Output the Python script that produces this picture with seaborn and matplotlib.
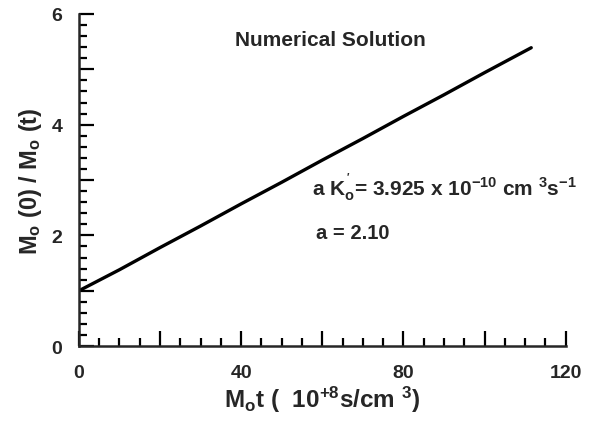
import numpy as np
import pandas as pd
import seaborn as sns
import matplotlib
matplotlib.use('Agg')
import matplotlib.pyplot as plt
from matplotlib.ticker import MultipleLocator, FixedFormatter, FixedLocator

# values
mot = [0, 10, 20, 30, 40, 50, 60, 70, 80, 90, 100, 111.5]
ratio = [1.00, 1.38, 1.78, 2.17, 2.57, 2.96, 3.36, 3.75, 4.15, 4.54, 4.94, 5.39]
x_ticklabels = ['0', '', '40', '', '80', '', '120']
y_ticklabels = ['0', '', '2', '', '4', '', '6']

df = pd.DataFrame({'mot': mot, 'ratio': ratio})

sns.set_style('ticks')
plt.rcParams['font.family'] = ['Liberation Sans', 'DejaVu Sans']
plt.rcParams['font.weight'] = 'bold'
plt.rcParams['mathtext.fontset'] = 'custom'
plt.rcParams['mathtext.rm'] = 'Liberation Sans:bold'
plt.rcParams['mathtext.it'] = 'Liberation Sans:bold'
plt.rcParams['mathtext.bf'] = 'Liberation Sans:bold'

fig = plt.figure(figsize=(5.93, 4.27), dpi=100)
ax = fig.add_axes([0.133, 0.187, 0.821, 0.778])

sns.lineplot(data=df, x='mot', y='ratio', ax=ax, color='black', linewidth=2.4)

ax.set_xlim(0, 120)
ax.set_ylim(0, 6)
sns.despine(ax=ax)
for s in ['left', 'bottom']:
    ax.spines[s].set_linewidth(1.8)

ax.xaxis.set_major_locator(FixedLocator(list(range(0, 121, 20))))
ax.xaxis.set_major_formatter(FixedFormatter(x_ticklabels))
ax.xaxis.set_minor_locator(MultipleLocator(5))
ax.yaxis.set_major_locator(FixedLocator(list(range(0, 7))))
ax.yaxis.set_major_formatter(FixedFormatter(y_ticklabels))
ax.yaxis.set_minor_locator(MultipleLocator(0.2))

ax.tick_params(which='major', direction='in', length=11, width=1.6,
               labelsize=14, color='black')
ax.tick_params(which='minor', direction='in', length=6, width=1.6, color='black')
ax.tick_params(axis='x', which='major', pad=13)
ax.tick_params(axis='y', which='major', pad=12)

ax.set_xlabel(r'M$_{\rm o}$t (  10$^{+8}$s/cm $^{3}$)', fontsize=17.5,
              fontweight='bold', labelpad=2)
ax.set_ylabel(r'M$_{\rm o}$ (0) / M$_{\rm o}$ (t)', fontsize=17,
              fontweight='bold', labelpad=5)

ax.text(61.9, 5.53, 'Numerical Solution', fontsize=15, fontweight='bold',
        ha='center', va='center')
ax.text(57.4, 2.87, r"a K$_{\rm o}^{\,'}$= 3.925 x 10$^{-10}$ cm $^{3}$s$^{-1}$",
        fontsize=15, fontweight='bold', ha='left', va='center')
ax.text(58.4, 2.06, 'a = 2.10', fontsize=14.5, fontweight='bold',
        ha='left', va='center')

fig.savefig('out.png', dpi=100)
